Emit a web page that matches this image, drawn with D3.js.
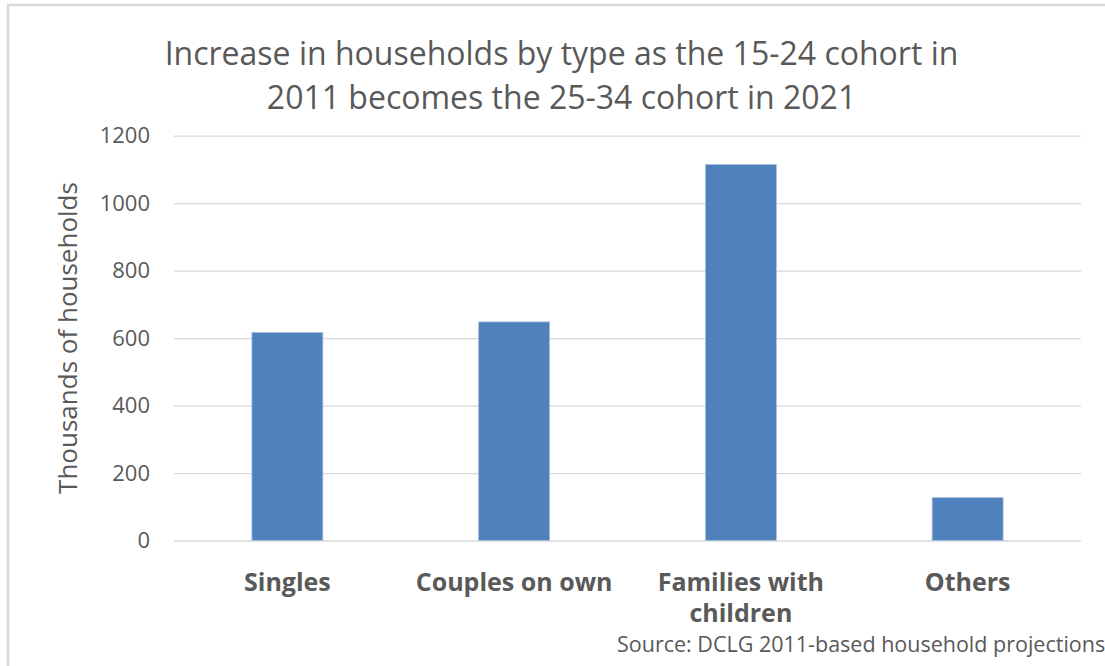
<!DOCTYPE html>
<html>
<head>
<meta charset="utf-8">
<script src="https://cdn.jsdelivr.net/npm/d3@7"></script>
<style>
  html, body { margin: 0; padding: 0; background: #fff; overflow: hidden; }
  svg { display: block; }
  text { font-family: "Open Sans", "Noto Sans", sans-serif; fill: #595959; }
</style>
</head>
<body>
<div id="chart"></div>
<script>
// Household increase by type (thousands)
const categories = [["Singles"], ["Couples on own"], ["Families with", "children"], ["Others"]];
const categoryKeys = ["Singles", "Couples on own", "Families with children", "Others"];
const values = [617, 648, 1115, 127];
const yTicks = [0, 200, 400, 600, 800, 1000, 1200];
const titleLines = ["Increase in households by type as the 15-24 cohort in", "2011 becomes the 25-34 cohort in 2021"];
const yAxisTitle = "Thousands of households";
const sourceNote = "Source: DCLG 2011-based household projections";

const W = 1105, H = 666;
const margin = { left: 174, right: W - 1081, top: 135.7, bottom: H - 540.5 };

const svg = d3.select("#chart").append("svg").attr("width", W).attr("height", H);

// chart frame
svg.append("rect")
  .attr("x", 8).attr("y", 5)
  .attr("width", W + 20).attr("height", H + 20)
  .attr("fill", "none").attr("stroke", "#d9d9d9").attr("stroke-width", 2.5);

const x = d3.scaleBand().domain(categoryKeys).range([margin.left, W - margin.right]).padding(0);
const y = d3.scaleLinear().domain([0, 1200]).range([H - margin.bottom, margin.top]);

// gridlines
const grid = svg.append("g")
  .attr("transform", `translate(${margin.left},0)`)
  .call(d3.axisLeft(y).tickValues(yTicks).tickSize(-(W - margin.left - margin.right)).tickFormat(""));
grid.select(".domain").remove();
grid.selectAll(".tick line").attr("stroke", "#d9d9d9").attr("stroke-width", 1.3);

// y axis labels
const yAxis = svg.append("g")
  .attr("transform", `translate(${margin.left - 24},0)`)
  .call(d3.axisLeft(y).tickValues(yTicks).tickFormat(d3.format("d")).tickSize(0).tickPadding(0));
yAxis.select(".domain").remove();
yAxis.selectAll(".tick text")
  .style("font-family", "'Open Sans', sans-serif")
  .style("font-size", "22px").attr("fill", "#595959");

// bars
const barFrac = 0.313;
svg.append("g").selectAll("rect")
  .data(values)
  .join("rect")
  .attr("x", (d, i) => x(categoryKeys[i]) + x.bandwidth() * (1 - barFrac) / 2)
  .attr("width", x.bandwidth() * barFrac)
  .attr("y", d => y(d))
  .attr("height", d => y(0) - y(d))
  .attr("fill", "#4f81bd")
  .attr("stroke", "#a9c0e0").attr("stroke-width", 0.8);

// category labels
const xl = svg.append("g");
categories.forEach((lines, i) => {
  const cx = x(categoryKeys[i]) + x.bandwidth() / 2;
  const t = xl.append("text")
    .attr("x", cx)
    .attr("y", 591)
    .attr("text-anchor", "middle")
    .style("font-size", "25px").style("font-weight", "bold");
  lines.forEach((l, j) => {
    t.append("tspan").attr("x", cx).attr("dy", j === 0 ? 0 : 31).text(l);
  });
});

// title
const title = svg.append("text")
  .attr("text-anchor", "middle")
  .style("font-size", "32px");
titleLines.forEach((l, j) => {
  title.append("tspan").attr("x", 561.5).attr("y", 65 + j * 43.5).text(l);
});

// y axis title
svg.append("text")
  .attr("transform", `translate(77,338) rotate(-90)`)
  .attr("text-anchor", "middle")
  .style("font-size", "26px")
  .text(yAxisTitle);

// source note
svg.append("text")
  .attr("x", 617).attr("y", 652)
  .style("font-size", "21.5px")
  .text(sourceNote);
</script>
</body>
</html>
